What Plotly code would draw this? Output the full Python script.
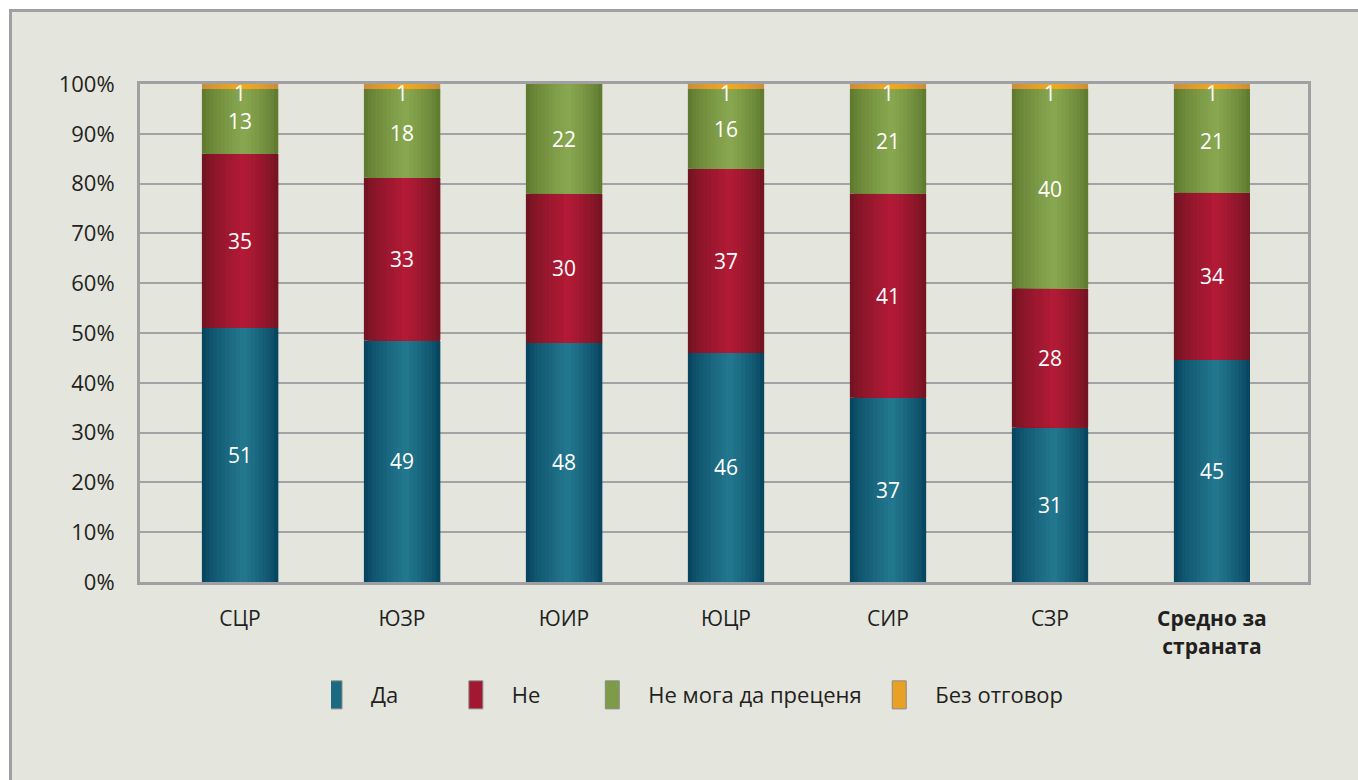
import plotly.graph_objects as go

categories = ["СЦР", "ЮЗР", "ЮИР", "ЮЦР", "СИР", "СЗР", "Средно за страната"]
tick_labels = ["СЦР", "ЮЗР", "ЮИР", "ЮЦР", "СИР", "СЗР", "<b>Средно за<br>страната</b>"]
series_names = ["Да", "Не", "Не мога да преценя", "Без отговор"]
da = [51, 49, 48, 46, 37, 31, 45]
ne = [35, 33, 30, 37, 41, 28, 34]
ne_moga = [13, 18, 22, 16, 21, 40, 21]
bez_otgovor = [1, 1, 0, 1, 1, 1, 1]
y_ticks = [0, 10, 20, 30, 40, 50, 60, 70, 80, 90, 100]

series_values = [da, ne, ne_moga, bez_otgovor]
# (edge colour, highlight colour) for the cylindrical shading
series_colors = [
    ("#05405a", "#23788f"),
    ("#6c1320", "#b41a36"),
    ("#5a752b", "#8aa851"),
    ("#c68a40", "#f3a91c"),
]
# extra non-breaking spaces after legend labels to mimic the reference spacing
legend_pad = [12, 11, 5, 0]

W, H = 1358, 780
ML, MR, MT, MB = 140, 50, 84, 198
BAR_W = 0.47
SLICES = 20


def hex2rgb(h):
    h = h.lstrip("#")
    return tuple(int(h[i:i + 2], 16) for i in (0, 2, 4))


def mix(c1, c2, t):
    a, b = hex2rgb(c1), hex2rgb(c2)
    return "rgb(%d,%d,%d)" % tuple(round(a[i] + (b[i] - a[i]) * t) for i in range(3))


def shade(u):
    peak = 0.55
    f = u / peak if u < peak else (1 - u) / (1 - peak)
    return max(0.0, f) ** 0.7


n = len(categories)
totals = [sum(s[i] for s in series_values) for i in range(n)]
norm = [[100.0 * s[i] / totals[i] for i in range(n)] for s in series_values]
bases = []
running = [0.0] * n
for s in norm:
    bases.append(list(running))
    running = [running[i] + s[i] for i in range(n)]

fig = go.Figure()
xs = list(range(n))
for k, name in enumerate(series_names):
    edge, hi = series_colors[k]
    for j in range(SLICES):
        u = (j + 0.5) / SLICES
        col = mix(edge, hi, shade(u))
        left = -BAR_W / 2 + j * BAR_W / SLICES
        fig.add_trace(go.Bar(
            x=xs, y=norm[k], base=bases[k],
            width=BAR_W / 2 - left,
            offset=left,
            marker=dict(color=col, line=dict(width=0)),
            name=name, legendgroup=name,
            showlegend=False, hoverinfo="skip",
        ))
    # legend entry
    fig.add_trace(go.Bar(
        x=[None], y=[None], name=name + "\u00a0" * legend_pad[k], legendgroup=name,
        marker=dict(color=mix(edge, hi, 0.75), line=dict(color="#8a8a8a", width=1)),
        showlegend=True,
    ))

annotations = []
for k in range(len(series_names)):
    for i in range(n):
        v = series_values[k][i]
        if v <= 0:
            continue
        if k == len(series_names) - 1:
            annotations.append(dict(x=i, y=bases[k][i] + norm[k][i], text=str(v),
                                    yanchor="top", showarrow=False, yshift=7,
                                    font=dict(color="white", size=21)))
        else:
            annotations.append(dict(x=i, y=bases[k][i] + norm[k][i] / 2, text=str(v),
                                    yanchor="middle", showarrow=False,
                                    font=dict(color="white", size=21)))

pw, ph = W - ML - MR, H - MT - MB


def px_x(p):
    return (p - ML) / pw


def px_y(p):
    return (H - MB - p) / ph


shapes = [dict(type="rect", xref="paper", yref="paper",
               x0=px_x(10.5), x1=px_x(W + 20), y0=px_y(10.5), y1=px_y(H + 20),
               fillcolor="#e4e6de", line=dict(color="#a0a0a3", width=3), layer="below")]

fig.update_layout(
    width=W, height=H,
    margin=dict(l=ML, r=MR, t=MT, b=MB),
    paper_bgcolor="white",
    plot_bgcolor="white",
    barmode="overlay",
    font=dict(family="Open Sans, Noto Sans, sans-serif", color="#231f20"),
    showlegend=True,
    legend=dict(orientation="h", x=px_x(700), xanchor="center", y=-0.227, yanchor="middle",
                font=dict(size=22), itemwidth=30, traceorder="normal",
                bgcolor="rgba(0,0,0,0)"),
    shapes=shapes,
    annotations=annotations,
)
fig.update_xaxes(
    tickmode="array", tickvals=xs, ticktext=tick_labels,
    range=[-0.617, 6.593], showgrid=False,
    showline=True, linecolor="#a0a0a3", linewidth=3, mirror=True,
    tickfont=dict(size=21), ticks="", ticklabelstandoff=16, fixedrange=True,
)
fig.update_yaxes(
    range=[0, 100], tickmode="array", tickvals=y_ticks,
    ticktext=[f"{t}%" for t in y_ticks],
    showgrid=True, gridcolor="#a3a3a6", gridwidth=2,
    showline=True, linecolor="#a0a0a3", linewidth=3, mirror=True,
    tickfont=dict(size=22), ticks="", ticklabelstandoff=18, zeroline=False,
    fixedrange=True,
)

post = """
document.body.style.margin = '0';
document.querySelectorAll('.legendpoints path').forEach(function (p) {
  p.setAttribute('d', 'M-9,14H-23V-14H-9Z');
});
"""
fig.write_html("out.html", post_script=post, config={"displayModeBar": False})
